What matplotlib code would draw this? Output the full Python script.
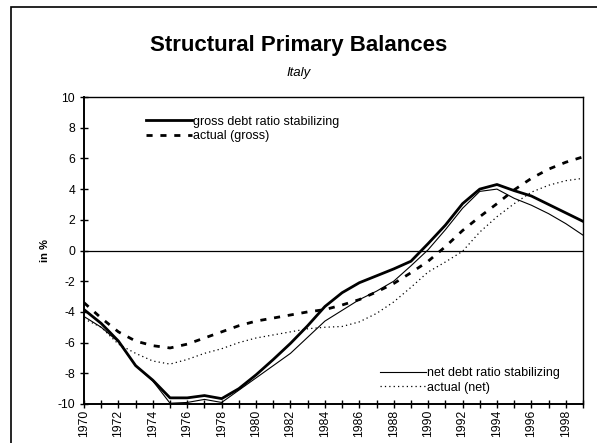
import matplotlib.pyplot as plt
from matplotlib.patches import Rectangle

plt.rcParams['font.family'] = ['Liberation Sans', 'DejaVu Sans']
plt.rcParams['axes.unicode_minus'] = False

years = list(range(1970, 2000))

# structural primary balances, in %
gross_stab = [-3.85, -4.75, -5.9, -7.5, -8.45, -9.6, -9.6, -9.45, -9.65, -9.0,
              -8.1, -7.1, -6.05, -4.9, -3.65, -2.75, -2.1, -1.65, -1.2, -0.7,
              0.45, 1.65, 3.05, 4.0, 4.3, 3.9, 3.55, 3.0, 2.45, 1.9]
gross_actual = [-3.4, -4.4, -5.3, -5.9, -6.2, -6.35, -6.1, -5.7, -5.3, -4.9,
                -4.6, -4.4, -4.2, -4.0, -3.85, -3.55, -3.2, -2.7, -2.15, -1.45,
                -0.7, 0.25, 1.3, 2.2, 3.05, 3.95, 4.7, 5.3, 5.75, 6.1]
net_stab = [-4.3, -5.0, -5.95, -7.5, -8.5, -9.95, -9.9, -9.7, -9.9, -9.1,
            -8.3, -7.5, -6.7, -5.65, -4.6, -3.9, -3.2, -2.65, -2.0, -1.0,
            0.05, 1.35, 2.75, 3.85, 4.0, 3.4, 2.95, 2.4, 1.75, 1.0]
net_actual = [-4.45, -5.0, -6.1, -6.7, -7.2, -7.4, -7.1, -6.7, -6.4, -6.0,
              -5.7, -5.5, -5.3, -5.1, -5.0, -4.95, -4.65, -4.1, -3.35, -2.4,
              -1.4, -0.75, -0.05, 1.2, 2.2, 3.05, 3.8, 4.25, 4.55, 4.7]

fig = plt.figure(figsize=(5.97, 4.43), dpi=100)
# outer frame of the chart object
fig.patches.append(Rectangle((11 / 597, -0.05), 1.0, (443 - 7) / 443 + 0.05,
                             transform=fig.transFigure, fill=False,
                             edgecolor='black', linewidth=1.2))

ax = fig.add_axes([84 / 597, 39 / 443, 499 / 597, 307 / 443])

l1, = ax.plot(years, gross_stab, color='black', lw=2.0, solid_joinstyle='round')
l2, = ax.plot(years, gross_actual, color='black', lw=2.0, linestyle=(0, (2.2, 2.8)))
l3, = ax.plot(years, net_stab, color='black', lw=0.8)
l4, = ax.plot(years, net_actual, color='black', lw=0.9, linestyle=(0, (1, 2.5)))

ax.axhline(0, color='black', lw=0.9)

ax.set_xlim(1970, 1999)
ax.set_ylim(-10, 10)
ax.set_yticks(range(-10, 11, 2))
ax.set_xticks(years, minor=False)
ax.set_xticklabels([str(y) if y % 2 == 0 else '' for y in years], rotation=90)
ax.tick_params(axis='both', direction='inout', length=6, width=1, labelsize=8.7)
ax.tick_params(axis='x', pad=1)
for s in ax.spines.values():
    s.set_linewidth(1.0)
ax.spines['left'].set_linewidth(1.4)
ax.spines['bottom'].set_linewidth(1.4)

ax.set_ylabel('in %', fontsize=8, fontweight='bold', labelpad=5)

leg1 = ax.legend([l1, l2], ['gross debt ratio stabilizing', 'actual (gross)'],
                 loc='upper left', bbox_to_anchor=(0.112, 0.96), frameon=False,
                 fontsize=9, handlelength=3.7, handletextpad=0.08,
                 labelspacing=0.2, borderpad=0)
ax.add_artist(leg1)
ax.legend([l3, l4], ['net debt ratio stabilizing', 'actual (net)'],
          loc='lower left', bbox_to_anchor=(0.58, 0.013), frameon=False,
          fontsize=9, handlelength=3.7, handletextpad=0.08,
          labelspacing=0.2, borderpad=0)

fig.text(0.5, 1 - 46 / 443, 'Structural Primary Balances', ha='center',
         va='center', fontsize=16, fontweight='bold')
fig.text(0.5, 1 - 73 / 443, 'Italy', ha='center', va='center', fontsize=9.5,
         style='italic')

fig.savefig('out.png', dpi=100)
